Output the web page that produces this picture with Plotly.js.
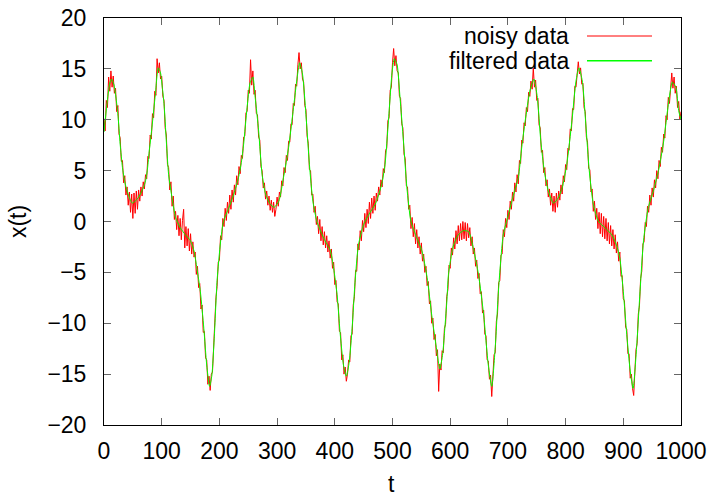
<!DOCTYPE html>
<html>
<head>
<meta charset="utf-8">
<script src="https://cdn.plot.ly/plotly-3.0.1.min.js"></script>
<style>html,body{margin:0;padding:0;background:#fff;}#chart{width:713px;height:496px;}</style>
</head>
<body>
<div id="chart"></div>
<script>
// noisy data sampled every 2 time units from t = 0 to t = 1000
const NOISY_T0 = 0;
const NOISY_DT = 2;
const noisyX = [
  10.1, 8.9, 11.9, 11.2, 14.2, 12.8, 14.8, 13.2, 14.3, 12.6,
  13.1, 10.8, 11.4, 8.6, 8.2, 5.9, 6.0, 3.8, 4.5, 2.6,
  3.4, 1.6, 2.9, 0.9, 2.7, 0.3, 2.8, 0.8, 3.0, 1.2,
  3.1, 2.0, 3.4, 2.5, 3.9, 3.2, 4.6, 4.2, 6.4, 6.2,
  8.5, 8.1, 10.6, 10.2, 12.8, 12.4, 16.0, 14.6, 15.6, 14.0,
  14.3, 12.3, 11.9, 9.2, 8.5, 5.6, 5.3, 3.1, 3.9, 1.5,
  2.5, 0.2, 1.0, -0.8, 0.6, -1.4, 0.3, -1.8, 0.1, 1.2,
  -2.6, -0.5, -2.4, -0.7, -2.9, -1.2, -3.2, -2.0, -3.5, -3.0,
  -5.2, -4.4, -6.5, -6.1, -8.6, -8.2, -10.9, -10.8, -13.4, -13.6,
  -16.0, -15.2, -16.6, -15.0, -14.8, -12.0, -10.9, -7.5, -6.4, -4.0,
  -3.8, -1.4, -1.8, 0.3, -0.5, 1.3, 0.1, 1.9, 0.8, 2.6,
  1.2, 3.1, 1.9, 3.6, 2.6, 4.5, 3.6, 5.4, 4.7, 6.5,
  6.2, 8.3, 8.4, 10.7, 10.8, 12.9, 12.6, 15.9, 13.4, 14.8,
  12.5, 12.9, 10.6, 10.5, 8.3, 8.0, 5.4, 5.0, 3.3, 3.8,
  2.2, 3.0, 1.6, 2.5, 1.1, 2.1, 0.9, 1.9, 0.5, 1.2,
  2.4, 1.5, 2.9, 2.4, 4.0, 3.5, 5.3, 4.8, 6.5, 6.0,
  7.9, 7.8, 9.6, 9.5, 11.6, 11.4, 13.5, 13.3, 15.4, 16.6,
  15.0, 15.6, 14.0, 13.7, 11.4, 11.0, 8.4, 7.7, 5.1, 5.0,
  2.6, 2.7, 0.9, 1.5, -0.3, 0.5, -1.2, 0.2, -1.9, -0.5,
  -2.3, -1.0, -2.6, -1.4, -3.0, -1.9, -3.6, -2.7, -4.6, -4.0,
  -6.2, -5.8, -7.9, -8.1, -10.8, -10.9, -13.6, -13.1, -15.0, -14.3,
  -15.7, -15.0, -13.6, -13.8, -11.2, -11.1, -8.2, -7.4, -4.8, -4.9,
  -2.2, -2.8, -0.9, -1.9, 0.1, -1.0, 0.8, -0.6, 1.2, -0.2,
  1.9, 0.3, 2.3, 0.8, 2.5, 1.1, 2.8, 2.0, 3.4, 2.6,
  4.1, 3.4, 5.2, 4.8, 7.0, 7.2, 9.9, 10.2, 12.9, 13.2,
  15.6, 17.0, 15.3, 16.3, 14.8, 14.6, 12.3, 12.1, 9.6, 9.2,
  6.6, 6.2, 3.5, 3.4, 1.2, 1.6, -0.7, 0.4, -1.5, -0.2,
  -2.2, -0.8, -2.6, -1.5, -3.2, -2.1, -3.9, -3.2, -5.0, -4.4,
  -6.3, -5.9, -8.1, -7.8, -10.0, -9.5, -11.6, -11.1, -13.2, -12.6,
  -16.7, -14.0, -14.6, -12.7, -12.9, -10.5, -10.1, -7.4, -6.7, -4.3,
  -4.6, -2.6, -3.3, -1.6, -2.7, -0.9, -2.2, -0.4, -1.9, -0.2,
  -1.8, 0.0, -1.7, -0.1, -1.9, -0.2, -1.6, -0.6, -2.4, -1.5,
  -3.2, -2.6, -4.4, -3.8, -5.6, -5.1, -7.1, -6.9, -9.0, -8.7,
  -11.1, -11.2, -13.6, -13.7, -15.5, -15.1, -17.2, -15.4, -13.1, -12.9,
  -9.8, -9.1, -6.0, -5.8, -3.3, -3.2, -0.8, -1.5, 0.3, -0.6,
  1.1, 0.2, 2.0, 1.2, 2.9, 2.0, 3.8, 2.9, 4.6, 3.7,
  6.0, 5.7, 8.0, 7.7, 9.7, 9.4, 11.2, 10.8, 12.7, 12.3,
  13.8, 13.0, 15.1, 13.2, 13.9, 11.9, 12.1, 9.5, 9.2, 6.8,
  7.0, 4.8, 5.3, 3.5, 4.1, 2.4, 3.2, 1.6, 2.8, 1.0,
  2.5, 0.9, 2.8, 1.4, 3.0, 2.1, 3.6, 2.7, 4.5, 3.9,
  5.6, 5.1, 7.2, 7.0, 9.1, 8.9, 11.1, 11.0, 13.3, 13.2,
  14.9, 15.7, 14.5, 15.1, 13.5, 13.6, 11.2, 10.8, 8.3, 7.8,
  5.2, 5.1, 2.9, 3.2, 1.0, 2.0, 0.2, 1.3, -0.7, 0.9,
  -1.2, 0.8, -1.5, 0.5, -1.7, 0.3, -1.9, -0.1, -2.2, -0.4,
  -2.4, -0.8, -2.7, -1.3, -3.1, -2.0, -3.9, -3.0, -5.4, -5.3,
  -7.6, -7.8, -10.4, -10.6, -13.0, -13.0, -15.4, -15.0, -16.4, -17.1,
  -14.8, -12.6, -12.0, -9.1, -8.3, -5.6, -4.9, -2.2, -2.0, -0.1,
  -0.5, 1.5, 0.9, 2.6, 1.6, 3.3, 2.4, 4.1, 3.3, 5.0,
  4.2, 6.0, 5.4, 7.3, 6.8, 8.6, 8.2, 10.4, 10.0, 12.2,
  11.6, 13.4, 14.6, 13.1, 14.2, 12.6, 13.3, 11.2, 11.8, 10.0,
  10.8
];

// filtered data (read at key points along the smooth curve)
const filteredT = [
  0, 5, 10, 13, 17, 20, 24, 28, 32, 36, 40, 45, 49, 54, 59, 63, 68, 72, 75, 78,
  83, 89, 94, 98, 101, 104, 108, 112, 118, 124, 132, 141, 150, 156, 161, 167, 173, 178, 183, 187,
  191, 196, 202, 207, 216, 225, 233, 238, 242, 248, 253, 258, 262, 268, 274, 280, 288, 295, 303, 311,
  320, 327, 334, 339, 344, 350, 356, 362, 369, 378, 386, 392, 398, 404, 409, 415, 420, 425, 430, 435,
  441, 450, 459, 470, 481, 487, 493, 499, 503, 508, 513, 519, 525, 532, 542, 551, 560, 568, 576, 582,
  587, 590, 594, 597, 602, 606, 614, 623, 632, 640, 649, 658, 666, 672, 678, 684, 692, 701, 710, 718,
  724, 730, 738, 745, 751, 757, 763, 770, 779, 787, 794, 802, 811, 818, 823, 829, 835, 841, 848, 857,
  868, 880, 888, 894, 900, 906, 912, 917, 923, 929, 935, 943, 952, 961, 970, 978, 985, 991, 996, 1000
];
const filteredX = [
  8.8, 11.5, 13.6, 14.0, 13.5, 12.5, 10.6, 7.6, 5.3, 3.9, 3.0, 2.2, 1.8, 2.0, 2.3, 2.7, 3.3, 4.0, 5.0, 6.7,
  9.2, 12.5, 15.1, 14.6, 13.2, 11.6, 7.9, 4.6, 2.3, 0.4, -0.6, -1.3, -1.9, -2.9, -4.6, -6.9, -10.5, -14.1, -16.2, -15.1,
  -11.5, -5.8, -2.0, 0.0, 1.3, 2.7, 4.3, 5.8, 7.6, 11.2, 13.6, 14.2, 12.2, 8.9, 4.6, 2.7, 1.7, 1.4, 2.0, 4.3,
  7.3, 10.5, 13.8, 15.6, 14.5, 10.5, 5.6, 2.0, 0.0, -1.3, -2.2, -2.8, -4.6, -7.2, -10.8, -14.1, -15.2, -13.8, -10.5, -6.0,
  -2.3, -0.3, 0.7, 1.7, 3.6, 5.6, 9.9, 14.5, 16.0, 15.4, 12.2, 7.9, 3.3, 0.0, -1.6, -2.9, -5.5, -9.2, -12.4, -14.5,
  -13.0, -11.0, -8.0, -5.2, -3.3, -2.3, -1.3, -0.9, -1.0, -2.6, -5.2, -9.2, -14.1, -16.2, -12.4, -6.5, -1.3, 0.7, 2.7, 4.3,
  7.3, 9.9, 12.8, 14.0, 12.2, 7.9, 5.0, 3.0, 1.8, 2.3, 3.3, 5.6, 9.9, 13.8, 15.1, 13.8, 9.6, 5.0, 1.7, 0.0,
  -0.6, -1.3, -2.3, -3.6, -6.9, -11.1, -14.7, -16.4, -12.4, -6.9, -1.9, 1.3, 3.0, 5.0, 7.9, 11.5, 13.7, 13.2, 10.9, 10.0
];

const seriesNames = ["noisy data", "filtered data"];
const xTickVals = [0, 100, 200, 300, 400, 500, 600, 700, 800, 900, 1000];
const yTickVals = [-20, -15, -10, -5, 0, 5, 10, 15, 20];
const xTitle = "t";
const yTitle = "x(t)";

const FONT = "Liberation Sans, Arial, Helvetica, sans-serif";
const RED = "#ff0000";
const GREEN = "#00ff00";

const traces = [
  {
    type: "scatter", mode: "lines", name: seriesNames[0],
    x0: NOISY_T0, dx: NOISY_DT, y: noisyX,
    line: {color: RED, width: 1}, showlegend: false
  },
  {
    type: "scatter", mode: "lines", name: seriesNames[1],
    x: filteredT, y: filteredX,
    line: {color: GREEN, width: 1, shape: "spline", smoothing: 0.6}, showlegend: false
  }
];

const axisCommon = {
  showgrid: false, zeroline: false,
  showline: true, linecolor: "#000", linewidth: 1, mirror: "ticks",
  ticks: "inside", ticklen: 7, tickcolor: "#666", tickwidth: 1,
  tickfont: {family: FONT, size: 23, color: "#000"},
  fixedrange: true
};

const legendY1 = 1 - (36 - 18) / 407;
const legendY2 = 1 - (60.7 - 18) / 407;
const legTextX = (571 - 104) / 577;
const legLineX0 = (587 - 104) / 577;
const legLineX1 = (652 - 104) / 577;
const xTitleY = 1 - (483.5 - 18) / 407;

const layout = {
  width: 713, height: 496,
  margin: {l: 104, r: 32, t: 18, b: 71, pad: 0},
  paper_bgcolor: "#fff", plot_bgcolor: "#fff",
  showlegend: false,
  xaxis: Object.assign({}, axisCommon, {
    range: [0, 1000], tickvals: xTickVals, ticklabelstandoff: 5
  }),
  yaxis: Object.assign({}, axisCommon, {
    range: [-20, 20], tickvals: yTickVals, ticklabelstandoff: 12,
    title: {text: yTitle, font: {family: FONT, size: 23, color: "#000"}, standoff: 14}
  }),
  annotations: [
    {xref: "paper", yref: "paper", x: 0.4985, y: xTitleY, xanchor: "center", yanchor: "middle",
     text: xTitle, showarrow: false, borderpad: 0, font: {family: FONT, size: 23, color: "#000"}},
    {xref: "paper", yref: "paper", x: legTextX, y: legendY1, xanchor: "right", yanchor: "middle",
     text: seriesNames[0], showarrow: false, font: {family: FONT, size: 23, color: "#000"}},
    {xref: "paper", yref: "paper", x: legTextX, y: legendY2, xanchor: "right", yanchor: "middle",
     text: seriesNames[1], showarrow: false, font: {family: FONT, size: 23, color: "#000"}}
  ],
  shapes: [
    {type: "line", xref: "paper", yref: "paper", x0: legLineX0, x1: legLineX1, y0: legendY1, y1: legendY1,
     line: {color: RED, width: 1}},
    {type: "line", xref: "paper", yref: "paper", x0: legLineX0, x1: legLineX1, y0: legendY2, y1: legendY2,
     line: {color: GREEN, width: 1.5}}
  ]
};

Plotly.newPlot("chart", traces, layout, {staticPlot: true, displayModeBar: false});
</script>
</body>
</html>
